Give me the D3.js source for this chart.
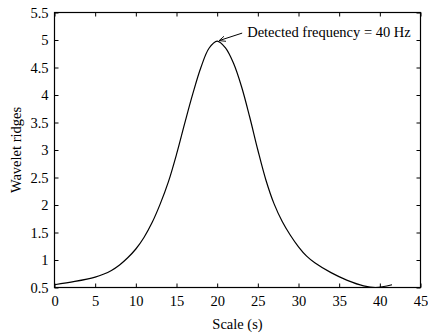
<!DOCTYPE html>
<html>
<head>
<meta charset="utf-8">
<script src="https://cdn.jsdelivr.net/npm/d3@7"></script>
<style>
  body { margin: 0; background: #fff; }
  text { font-family: "Liberation Serif", "DejaVu Serif", serif; fill: #000; }
</style>
</head>
<body>
<div id="chart"></div>
<script>
// scale (s) vs wavelet ridge value
const scaleS = [0, 2.5, 5, 6, 7, 8, 9, 10, 11, 12, 13, 14, 15, 16, 17, 18, 19, 20, 21, 22, 23, 24, 25, 26, 27, 28, 29, 30, 31, 32, 34, 36, 38, 39.5, 41.5]
const ridge = [0.55, 0.61, 0.69, 0.74, 0.81, 0.91, 1.04, 1.2, 1.41, 1.68, 2.02, 2.42, 2.92, 3.48, 4.02, 4.5, 4.85, 4.98, 4.86, 4.58, 4.15, 3.6, 3.0, 2.45, 2.02, 1.70, 1.45, 1.24, 1.07, 0.95, 0.77, 0.63, 0.53, 0.5, 0.55]
const xTicks = [0, 5, 10, 15, 20, 25, 30, 35, 40, 45]
const yTicks = [0.5, 1, 1.5, 2, 2.5, 3, 3.5, 4, 4.5, 5, 5.5]
const peakLabel = 'Detected frequency = 40 Hz'

const width = 428, height = 335
const margin = { top: 12.5, right: 7.5, bottom: 47.5, left: 54.5 }
const fontSize = '14.5px'

const svg = d3.select('#chart').append('svg')
    .attr('width', width)
    .attr('height', height)

const x = d3.scaleLinear().domain([0, 45]).range([margin.left, width - margin.right])
const y = d3.scaleLinear().domain([0.5, 5.5]).range([height - margin.bottom, margin.top])

const data = scaleS.map((s, i) => ({ s: s, v: ridge[i] }))

// axes, ticks pointing inward on all four sides
const tickLen = 4
const axisStyle = g => {
    g.select('.domain').remove()
    g.selectAll('.tick line').attr('stroke', '#000')
    g.selectAll('.tick text').style('font-size', fontSize)
}

svg.append('g')
    .attr('transform', `translate(0,${y(0.5)})`)
    .call(d3.axisBottom(x).tickValues(xTicks).tickSizeInner(-tickLen).tickPadding(8).tickFormat(d3.format('d')))
    .call(axisStyle)

svg.append('g')
    .attr('transform', `translate(0,${y(5.5)})`)
    .call(d3.axisTop(x).tickValues(xTicks).tickSizeInner(-tickLen).tickFormat(''))
    .call(axisStyle)

svg.append('g')
    .attr('transform', `translate(${x(0)},0)`)
    .call(d3.axisLeft(y).tickValues(yTicks).tickSizeInner(-tickLen).tickPadding(6).tickFormat(d => d))
    .call(axisStyle)

svg.append('g')
    .attr('transform', `translate(${x(45)},0)`)
    .call(d3.axisRight(y).tickValues(yTicks).tickSizeInner(-tickLen).tickFormat(''))
    .call(axisStyle)

// frame
svg.append('rect')
    .attr('x', x(0))
    .attr('y', y(5.5))
    .attr('width', x(45) - x(0))
    .attr('height', y(0.5) - y(5.5))
    .attr('fill', 'none')
    .attr('stroke', '#000')
    .attr('stroke-width', 1.2)

// the ridge curve
const line = d3.line()
    .x(d => x(d.s))
    .y(d => y(d.v))
    .curve(d3.curveCatmullRom.alpha(0.5))

svg.append('path')
    .datum(data)
    .attr('fill', 'none')
    .attr('stroke', '#000')
    .attr('stroke-width', 1.2)
    .attr('d', line)

// annotation at the peak
const peak = data.reduce((a, b) => (b.v > a.v ? b : a))
svg.append('defs').append('marker')
    .attr('id', 'arrow')
    .attr('viewBox', '0 -5 10 10')
    .attr('refX', 9)
    .attr('refY', 0)
    .attr('markerWidth', 7)
    .attr('markerHeight', 7)
    .attr('orient', 'auto')
    .append('path')
    .attr('d', 'M0,-4L9,0L0,4')
    .attr('fill', 'none')
    .attr('stroke', '#000')
    .attr('stroke-width', 1.2)

svg.append('line')
    .attr('x1', x(peak.s) + 25)
    .attr('y1', y(peak.v) - 8)
    .attr('x2', x(peak.s) + 2)
    .attr('y2', y(peak.v) - 0.5)
    .attr('stroke', '#000')
    .attr('stroke-width', 1)
    .attr('marker-end', 'url(#arrow)')

svg.append('text')
    .attr('x', x(peak.s) + 30)
    .attr('y', y(peak.v) - 4)
    .style('font-size', fontSize)
    .text(peakLabel)

// axis titles
svg.append('text')
    .attr('x', (x(0) + x(45)) / 2)
    .attr('y', 329)
    .attr('text-anchor', 'middle')
    .style('font-size', fontSize)
    .text('Scale (s)')

svg.append('text')
    .attr('transform', `translate(21,${(y(0.5) + y(5.5)) / 2}) rotate(-90)`)
    .attr('text-anchor', 'middle')
    .style('font-size', fontSize)
    .text('Wavelet ridges')
</script>
</body>
</html>
